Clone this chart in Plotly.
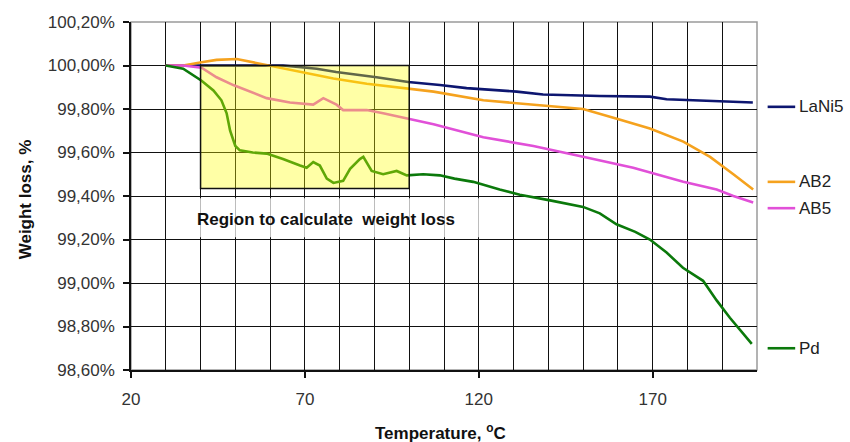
import plotly.graph_objects as go

# ---------------- data ----------------
lani5_x = [30, 40, 50, 63.7, 73.4, 79, 90.6, 99.7, 108.8, 116.5, 130.9, 138.5, 154.8, 169.2, 174, 183.7, 190.3, 198.8]
lani5_y = [100, 100, 100, 100.0, 99.985, 99.97, 99.946, 99.924, 99.91, 99.896, 99.88, 99.867, 99.86, 99.857, 99.845, 99.84, 99.835, 99.83]

ab2_x = [30, 35, 40.3, 44.6, 50.4, 55.2, 59, 63.8, 68.6, 78.2, 87.8, 99.3, 107, 121.3, 135.7, 150, 159.7, 169.2, 178.8, 186.5, 193.2, 198.9]
ab2_y = [100, 100, 100.015, 100.026, 100.03, 100.015, 100, 99.985, 99.97, 99.94, 99.916, 99.893, 99.88, 99.84, 99.82, 99.80, 99.755, 99.71, 99.65, 99.58, 99.50, 99.43]

ab5_x = [30, 35, 40.3, 44.6, 49.4, 54.2, 59, 65.7, 72.4, 75.3, 79.1, 81, 87.8, 92.5, 99.3, 107, 121.3, 135.7, 150, 164.4, 178.8, 188.4, 193.2, 198.9]
ab5_y = [100, 100, 99.99, 99.946, 99.91, 99.88, 99.85, 99.83, 99.82, 99.85, 99.82, 99.795, 99.795, 99.78, 99.756, 99.73, 99.67, 99.63, 99.58, 99.53, 99.465, 99.43, 99.40, 99.37]

pd_x = [30, 35, 40.3, 43.7, 46, 47.5, 48.5, 50, 51.3, 55, 59, 63.7, 68.6, 70.5, 72.4, 74.3, 76.3, 78.2, 81, 83, 85.8, 86.8, 89.2, 92.5, 96.4, 99.3,
        104, 108.8, 113, 118.4, 126, 131.8, 140.5, 150, 154.8, 159.6, 165, 169.2, 174, 178.7, 184.5, 188.4, 192.2, 196, 198.5]
pd_y = [100, 99.985, 99.93, 99.885, 99.84, 99.78, 99.70, 99.63, 99.61, 99.60, 99.595, 99.57, 99.54, 99.53, 99.556, 99.54, 99.48, 99.46, 99.47, 99.525, 99.57, 99.58, 99.515, 99.50, 99.515, 99.495,
        99.50, 99.495, 99.48, 99.465, 99.43, 99.406, 99.38, 99.35, 99.32, 99.27, 99.235, 99.20, 99.14, 99.07, 99.01, 98.92, 98.84, 98.77, 98.72]

series_names = ["LaNi5", "AB2", "AB5", "Pd"]
series_colors = ["#0d1670", "#F5A21E", "#E150D8", "#0B790B"]
legend_y = [99.81, 99.465, 99.344, 98.70]

y_ticks = [98.6, 98.8, 99.0, 99.2, 99.4, 99.6, 99.8, 100.0, 100.2]
y_ticktext = ["98,60%", "98,80%", "99,00%", "99,20%", "99,40%", "99,60%", "99,80%", "100,00%", "100,20%"]
x_ticks = [20, 70, 120, 170]

region_x = [40, 100]
region_y = [99.435, 100.0]
region_label = "Region to calculate  weight loss"

FONT = "Liberation Sans, Arial, sans-serif"

fig = go.Figure()
for name, xs, ys, col in zip(series_names, [lani5_x, ab2_x, ab5_x, pd_x], [lani5_y, ab2_y, ab5_y, pd_y], series_colors):
    fig.add_trace(go.Scatter(x=xs, y=ys, mode="lines", name=name,
                             line=dict(color=col, width=2.6), showlegend=False))

shapes = []
# outer frame (grey top/right)
shapes.append(dict(type="rect", xref="paper", yref="paper", x0=0, x1=1, y0=0, y1=1,
                   line=dict(color="#9a9a9a", width=1.5), fillcolor="rgba(0,0,0,0)", layer="below"))
# yellow region (translucent, above data)
shapes.append(dict(type="rect", xref="x", yref="y", x0=region_x[0], x1=region_x[1], y0=region_y[0], y1=region_y[1],
                   fillcolor="#FFFF00", opacity=0.35, line=dict(width=0), layer="above"))
shapes.append(dict(type="rect", xref="x", yref="y", x0=region_x[0], x1=region_x[1], y0=region_y[0], y1=region_y[1],
                   fillcolor="rgba(0,0,0,0)", line=dict(color="#111111", width=1.5), layer="above"))
# translucent white box behind label
shapes.append(dict(type="rect", xref="x", yref="y", x0=38.5, x1=121, y0=99.21, y1=99.39,
                   fillcolor="white", opacity=0.72, line=dict(width=0), layer="above"))

annotations = []
annotations.append(dict(x=76, y=99.292, xref="x", yref="y", text="<b>" + region_label + "</b>", showarrow=False,
                        font=dict(family=FONT, size=17, color="#111111"), xanchor="center", yanchor="middle"))
# legend-like labels at right
for name, yv, col in zip(series_names, legend_y, series_colors):
    shapes.append(dict(type="line", xref="paper", yref="y", x0=1.017, x1=1.061, y0=yv, y1=yv,
                       line=dict(color=col, width=2.6)))
    annotations.append(dict(x=1.064, y=yv, xref="paper", yref="y", text=name, showarrow=False,
                            font=dict(family=FONT, size=17, color="#222222"), xanchor="left", yanchor="middle"))
# axis titles
annotations.append(dict(x=-0.168, y=0.49, xref="paper", yref="paper", text="<b>Weight loss, %</b>", textangle=-90,
                        showarrow=False, font=dict(family=FONT, size=17, color="#111111"), xanchor="center", yanchor="middle"))
annotations.append(dict(x=0.495, y=-0.178, xref="paper", yref="paper", text="<b>Temperature, <sup>o</sup>C</b>",
                        showarrow=False, font=dict(family=FONT, size=17, color="#111111"), xanchor="center", yanchor="middle"))

fig.update_layout(
    width=850, height=442,
    margin=dict(l=131, r=93, t=22, b=72, autoexpand=False),
    paper_bgcolor="white", plot_bgcolor="white",
    font=dict(family=FONT, size=17, color="#333333"),
    shapes=shapes, annotations=annotations,
    xaxis=dict(range=[20, 200], tickvals=x_ticks, ticks="outside", ticklen=6, tickcolor="#111111", tickwidth=1.5,
               ticklabelstandoff=7,
               showgrid=True, gridcolor="#111111", gridwidth=1.3,
               minor=dict(dtick=10, tick0=20, showgrid=True, gridcolor="#111111", gridwidth=1.3),
               showline=True, linecolor="#111111", linewidth=1.5, zeroline=False, automargin=False,
               tickfont=dict(family=FONT, size=17, color="#333333")),
    yaxis=dict(range=[98.6, 100.2], tickvals=y_ticks, ticktext=y_ticktext, ticks="outside", ticklen=6,
               tickcolor="#111111", tickwidth=1.5, ticklabelstandoff=5,
               showgrid=True, gridcolor="#111111", gridwidth=1.3,
               showline=True, linecolor="#111111", linewidth=1.5, zeroline=False, automargin=False,
               tickfont=dict(family=FONT, size=17, color="#333333")),
)

fig.write_html("out.html", config={"displayModeBar": False},
               post_script="document.body.style.margin='0';document.body.style.overflow='hidden';")
